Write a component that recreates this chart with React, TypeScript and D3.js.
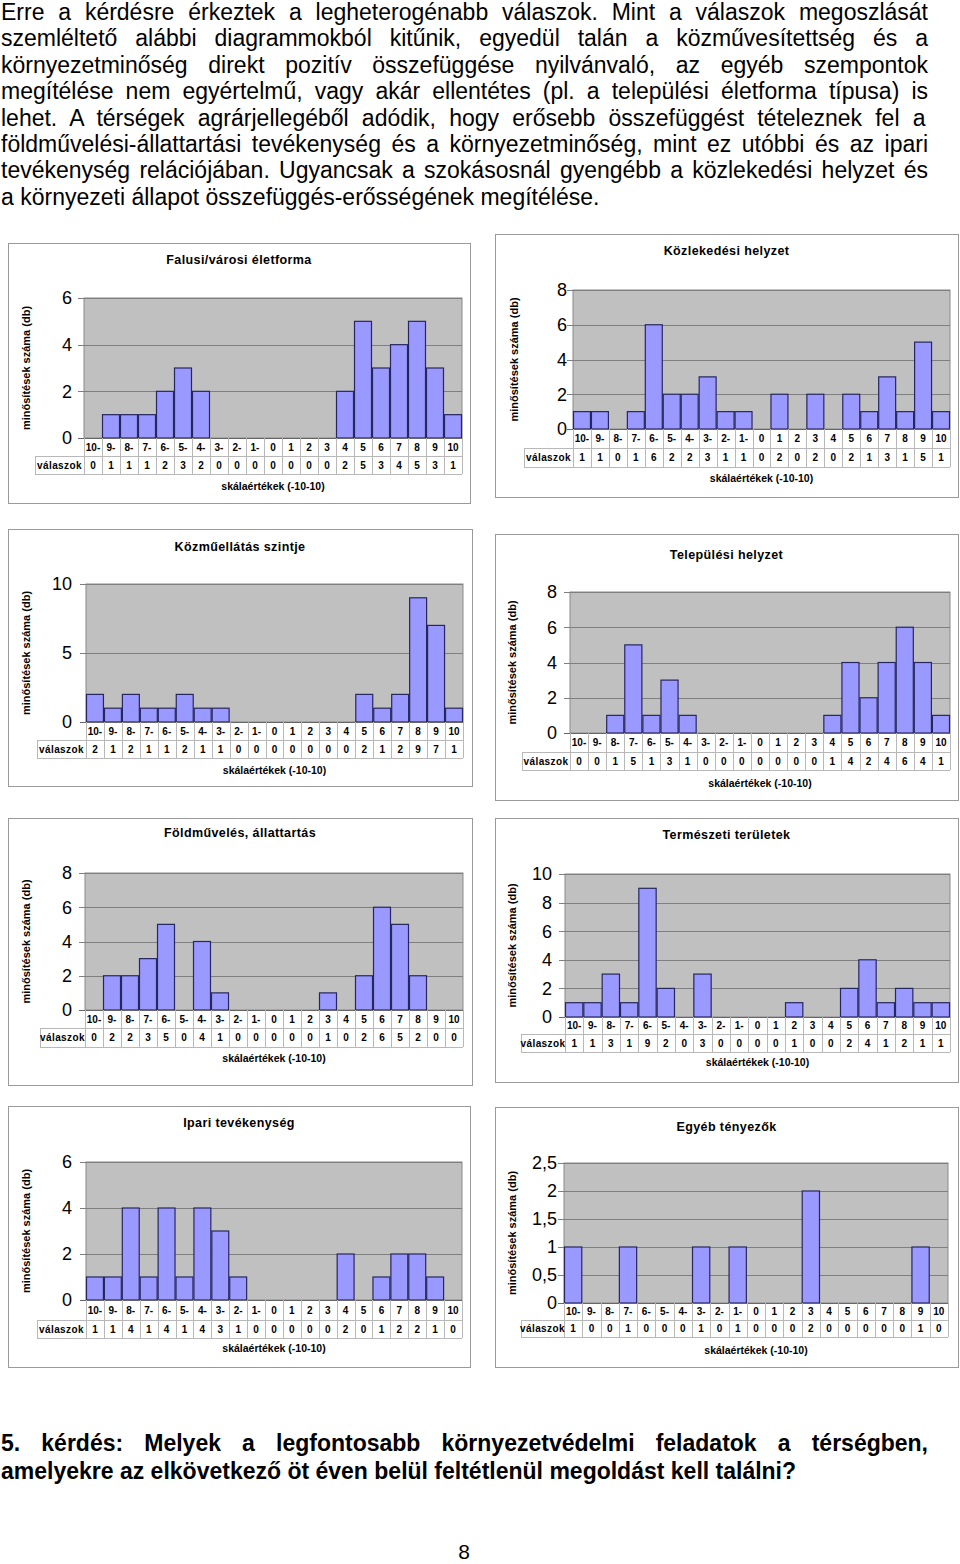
import React from 'react';
import * as d3 from 'd3';

const categories = ["10-", "9-", "8-", "7-", "6-", "5-", "4-", "3-", "2-", "1-", "0", "1", "2", "3", "4", "5", "6", "7", "8", "9", "10"];

const falusiValues = [0, 1, 1, 1, 2, 3, 2, 0, 0, 0, 0, 0, 0, 0, 2, 5, 3, 4, 5, 3, 1];
const kozlekedesiValues = [1, 1, 0, 1, 6, 2, 2, 3, 1, 1, 0, 2, 0, 2, 0, 2, 1, 3, 1, 5, 1];
const kozmuValues = [2, 1, 2, 1, 1, 2, 1, 1, 0, 0, 0, 0, 0, 0, 0, 2, 1, 2, 9, 7, 1];
const telepulesiValues = [0, 0, 1, 5, 1, 3, 1, 0, 0, 0, 0, 0, 0, 0, 1, 4, 2, 4, 6, 4, 1];
const foldmuvelesValues = [0, 2, 2, 3, 5, 0, 4, 1, 0, 0, 0, 0, 0, 1, 0, 2, 6, 5, 2, 0, 0];
const termeszetiValues = [1, 1, 3, 1, 9, 2, 0, 3, 0, 0, 0, 0, 1, 0, 0, 2, 4, 1, 2, 1, 1];
const ipariValues = [1, 1, 4, 1, 4, 1, 4, 3, 1, 0, 0, 0, 0, 0, 2, 0, 1, 2, 2, 1, 0];
const egyebValues = [1, 0, 0, 1, 0, 0, 0, 1, 0, 1, 0, 0, 0, 2, 0, 0, 0, 0, 0, 1, 0];

const ticks6 = [0, 2, 4, 6];
const ticks8 = [0, 2, 4, 6, 8];
const ticks10by5 = [0, 5, 10];
const ticks10by2 = [0, 2, 4, 6, 8, 10];
const ticks25 = [0, 0.5, 1, 1.5, 2, 2.5];

const rowLabel = "válaszok";
const yAxisTitle = "minősítések száma (db)";
const xAxisTitle = "skálaértékek (-10-10)";

const paragraphLines = [
  "Erre a kérdésre érkeztek a legheterogénabb válaszok. Mint a válaszok megoszlását",
  "szemléltető alábbi diagrammokból kitűnik, egyedül talán a közművesítettség és a",
  "környezetminőség direkt pozitív összefüggése nyilvánvaló, az egyéb szempontok",
  "megítélése nem egyértelmű, vagy akár ellentétes (pl. a települési életforma típusa) is",
  "lehet. A térségek agrárjellegéből adódik, hogy erősebb összefüggést tételeznek fel a",
  "földművelési-állattartási tevékenység és a környezetminőség, mint ez utóbbi és az ipari",
  "tevékenység relációjában. Ugyancsak a szokásosnál gyengébb a közlekedési helyzet és",
  "a környezeti állapot összefüggés-erősségének megítélése.",
];
const questionLines = [
  "5. kérdés: Melyek a legfontosabb környezetvédelmi feladatok a térségben,",
  "amelyekre az elkövetkező öt éven belül feltétlenül megoldást kell találni?",
];
const pageNumber = "8";

const FONT = "'Liberation Sans', Arial, sans-serif";
const huLocale = d3.formatLocale({ decimal: ",", thousands: " ", grouping: [3], currency: ["", " Ft"] });
const tickFmt = huLocale.format("~r");

let _ctx: CanvasRenderingContext2D | null = null;
function measure(text: string, font: string) {
  if (!_ctx) _ctx = document.createElement('canvas').getContext('2d');
  _ctx!.font = font;
  return _ctx!.measureText(text).width;
}

function JLine({ text, x, y, width, size, weight, justify }: any) {
  const font = `${weight} ${size}px 'Liberation Sans'`;
  const common = { x, y, fontFamily: FONT, fontSize: size, fontWeight: weight, fill: '#000' } as any;
  if (!justify) return <text {...common}>{text}</text>;
  const natural = measure(text, font);
  const gaps = (text.match(/ /g) || []).length;
  if (natural > width || gaps === 0) {
    return <text {...common} textLength={width} lengthAdjust="spacingAndGlyphs">{text}</text>;
  }
  const ws = (width - natural) / gaps;
  return <text {...common} style={{ wordSpacing: `${ws}px` }}>{text}</text>;
}

type Spec = {
  title: string;
  values: number[];
  ticks: number[];
  box: [number, number, number, number];
  left: number; right: number; top: number; zero: number;
  catH: number; dataH: number;
  tableLeft: number;
  titleY: number;
  yLabelRight: number;
  yTitleX: number;
  xTitleY: number;
};

const specs: Spec[] = [
  { title: "Falusi/városi életforma", values: falusiValues, ticks: ticks6, box: [8, 243, 470, 503],
    left: 84, right: 462, top: 298, zero: 438, catH: 18, dataH: 18, tableLeft: 35, titleY: 260, yLabelRight: 72, yTitleX: 26, xTitleY: 486 },
  { title: "Közlekedési helyzet", values: kozlekedesiValues, ticks: ticks8, box: [495, 234, 958, 497],
    left: 573, right: 950, top: 290, zero: 429, catH: 19, dataH: 19, tableLeft: 524, titleY: 251, yLabelRight: 567, yTitleX: 514, xTitleY: 478 },
  { title: "Közműellátás szintje", values: kozmuValues, ticks: ticks10by5, box: [8, 529, 472, 786],
    left: 86, right: 463, top: 584, zero: 722, catH: 18, dataH: 18, tableLeft: 37, titleY: 547, yLabelRight: 72, yTitleX: 26, xTitleY: 770 },
  { title: "Települési helyzet", values: telepulesiValues, ticks: ticks8, box: [495, 534, 958, 800],
    left: 570, right: 950, top: 592, zero: 733, catH: 19, dataH: 18, tableLeft: 522, titleY: 555, yLabelRight: 557, yTitleX: 512, xTitleY: 783 },
  { title: "Földművelés, állattartás", values: foldmuvelesValues, ticks: ticks8, box: [8, 818, 472, 1085],
    left: 85, right: 463, top: 873, zero: 1010, catH: 18, dataH: 19, tableLeft: 40, titleY: 833, yLabelRight: 72, yTitleX: 26, xTitleY: 1058 },
  { title: "Természeti területek", values: termeszetiValues, ticks: ticks10by2, box: [495, 818, 958, 1082],
    left: 565, right: 950, top: 874, zero: 1017, catH: 17, dataH: 18, tableLeft: 521, titleY: 835, yLabelRight: 552, yTitleX: 512, xTitleY: 1062 },
  { title: "Ipari tevékenység", values: ipariValues, ticks: ticks6, box: [8, 1106, 470, 1367],
    left: 86, right: 462, top: 1162, zero: 1300, catH: 20, dataH: 18, tableLeft: 37, titleY: 1123, yLabelRight: 72, yTitleX: 26, xTitleY: 1348 },
  { title: "Egyéb tényezők", values: egyebValues, ticks: ticks25, box: [495, 1107, 958, 1367],
    left: 564, right: 948, top: 1163, zero: 1303, catH: 17, dataH: 17, tableLeft: 521, titleY: 1127, yLabelRight: 557, yTitleX: 512, xTitleY: 1350 },
];

function BarChart({ s }: { s: Spec }) {
  const x = d3.scaleBand<string>().domain(categories).range([s.left, s.right]).padding(0);
  const y = d3.scaleLinear().domain([0, d3.max(s.ticks) as number]).range([s.zero, s.top]);
  const [bx0, by0, bx1, by1] = s.box;
  const catBottom = s.zero + s.catH;
  const dataBottom = catBottom + s.dataH;
  const tableStroke = '#b8b8b8';
  const bw = x.bandwidth();
  return (
    <g>
      <rect x={bx0 + 0.5} y={by0 + 0.5} width={bx1 - bx0} height={by1 - by0} fill="#fff" stroke="#9a9a9a" strokeWidth={1} />
      <text x={(bx0 + bx1) / 2} y={s.titleY} dy="0.35em" textAnchor="middle" fontFamily={FONT} fontSize={12.5} fontWeight="bold" letterSpacing={0.4}>{s.title}</text>
      <rect x={s.left} y={s.top} width={s.right - s.left} height={s.zero - s.top} fill="#c0c0c0" stroke="#8a8a8a" strokeWidth={1} />
      {s.ticks.map(t => (
        <g key={t}>
          {t > 0 && <line x1={s.left} x2={s.right} y1={Math.round(y(t)) + 0.5} y2={Math.round(y(t)) + 0.5} stroke="#7f7f7f" strokeWidth={1} />}
          <line x1={s.left - 6} x2={s.left} y1={Math.round(y(t)) + 0.5} y2={Math.round(y(t)) + 0.5} stroke="#7f7f7f" strokeWidth={1} />
          <text x={s.yLabelRight} y={y(t)} dy="0.36em" textAnchor="end" fontFamily={FONT} fontSize={18}>{tickFmt(t)}</text>
        </g>
      ))}
      {categories.map((c, i) => s.values[i] > 0 ? (
        <rect key={c} x={(x(c) as number) + 0.5} y={y(s.values[i])} width={bw - 1} height={s.zero - y(s.values[i])}
          fill="#9999ff" stroke="#27275f" strokeWidth={1.2} />
      ) : null)}
      <line x1={s.left - 6} x2={s.right} y1={s.zero + 0.5} y2={s.zero + 0.5} stroke="#666" strokeWidth={1} />
      <line x1={s.left} x2={s.right} y1={catBottom + 0.5} y2={catBottom + 0.5} stroke={tableStroke} />
      <line x1={s.tableLeft} x2={s.right} y1={dataBottom + 0.5} y2={dataBottom + 0.5} stroke={tableStroke} />
      <line x1={s.tableLeft} x2={s.left} y1={catBottom + 0.5} y2={catBottom + 0.5} stroke={tableStroke} />
      <line x1={s.tableLeft + 0.5} x2={s.tableLeft + 0.5} y1={catBottom} y2={dataBottom} stroke={tableStroke} />
      {categories.map((c, i) => (
        <g key={'t' + c}>
          <line x1={Math.round(x(c) as number) + 0.5} x2={Math.round(x(c) as number) + 0.5} y1={s.zero} y2={dataBottom} stroke={tableStroke} />
          <text x={(x(c) as number) + bw / 2} y={s.zero + s.catH / 2} dy="0.36em" textAnchor="middle" fontFamily={FONT} fontSize={10} fontWeight="bold">{c}</text>
          <text x={(x(c) as number) + bw / 2} y={catBottom + s.dataH / 2} dy="0.36em" textAnchor="middle" fontFamily={FONT} fontSize={10} fontWeight="bold">{s.values[i]}</text>
        </g>
      ))}
      <line x1={s.right + 0.5} x2={s.right + 0.5} y1={s.zero} y2={dataBottom} stroke={tableStroke} />
      <text x={(s.tableLeft + s.left) / 2} y={catBottom + s.dataH / 2} dy="0.36em" textAnchor="middle" fontFamily={FONT} fontSize={10} fontWeight="bold" letterSpacing={0.4}>{rowLabel}</text>
      <text x={(s.left + s.right) / 2} y={s.xTitleY} dy="0.35em" textAnchor="middle" fontFamily={FONT} fontSize={10.5} fontWeight="bold">{xAxisTitle}</text>
      <text transform={`translate(${s.yTitleX},${(s.top + s.zero) / 2}) rotate(-90)`} dy="0.35em" textAnchor="middle" fontFamily={FONT} fontSize={11} fontWeight="bold">{yAxisTitle}</text>
    </g>
  );
}

export default function App() {
  return (
    <svg width={960} height={1564} viewBox="0 0 960 1564" style={{ position: 'absolute', left: 0, top: 0, background: '#fff' }}>
      <rect x={0} y={0} width={960} height={1564} fill="#fff" />
      {paragraphLines.map((l, i) => (
        <JLine key={i} text={l} x={1} y={20 + i * 26.4} width={927} size={23} weight="normal" justify={i < paragraphLines.length - 1} />
      ))}
      {specs.map((s, i) => <BarChart key={i} s={s} />)}
      {questionLines.map((l, i) => (
        <JLine key={'q' + i} text={l} x={1} y={1451 + i * 28} width={927} size={23} weight="bold" justify={i === 0} />
      ))}
      <text x={464} y={1559} textAnchor="middle" fontFamily={FONT} fontSize={21}>{pageNumber}</text>
    </svg>
  );
}
